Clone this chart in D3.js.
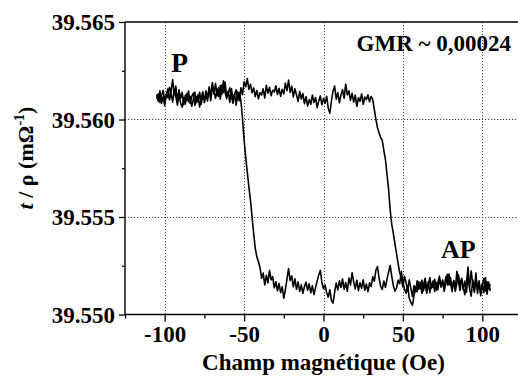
<!DOCTYPE html>
<html>
<head>
<meta charset="utf-8">
<script src="https://cdn.jsdelivr.net/npm/d3@7/dist/d3.min.js"></script>
<style>
  html, body { margin: 0; padding: 0; background: #fff; }
  svg { display: block; }
</style>
</head>
<body>
<svg id="chart" width="518" height="376"></svg>
<script>
// ---- data ----
const fieldOe = [-105,-104,-103,-102,-101,-100,-99,-98,-97,-96,-95,-94,-93,-92,-91,-90,-89,-88,-87,-86,-85,-84,-83,-82,-81,-80,-79,-78,-77,-76,-75,-74,-73,-72,-71,-70,-69,-68,-67,-66,-65,-64,-63,-62,-61,-60,-59,-58,-57,-56,-55,-54,-53,-52,-51,-50,-49,-48,-47,-46,-45,-44,-43,-42,-41,-40,-39,-38,-37,-36,-35,-34,-33,-32,-31,-30,-29,-28,-27,-26,-25,-24,-23,-22,-21,-20,-19,-18,-17,-16,-15,-14,-13,-12,-11,-10,-9,-8,-7,-6,-5,-4,-3,-2,-1,0,1,2,3,4,5,6,7,8,9,10,11,12,13,14,15,16,17,18,19,20,21,22,23,24,25,26,27,28,29,30,31,32,33,34,35,36,37,38,39,40,41,42,43,44,45,46,47,48,49,50,51,52,53,54,55,56,57,58,59,60,61,62,63,64,65,66,67,68,69,70,71,72,73,74,75,76,77,78,79,80,81,82,83,84,85,86,87,88,89,90,91,92,93,94,95,96,97,98,99,100,101,102,103,104,105];

// increasing-field sweep (P -> AP near +40 Oe)
const sweepUp = [39.56105,39.56132,39.56088,39.56121,39.56150,39.56097,39.56131,39.56112,39.56165,39.56140,39.56205,39.56128,39.56171,39.56094,39.56152,39.56108,39.56139,39.56076,39.56125,39.56098,39.56146,39.56083,39.56119,39.56135,39.56072,39.56118,39.56091,39.56140,39.56079,39.56124,39.56102,39.56147,39.56113,39.56158,39.56096,39.56172,39.56130,39.56185,39.56121,39.56163,39.56104,39.56177,39.56138,39.56192,39.56117,39.56145,39.56088,39.56159,39.56106,39.56131,39.56074,39.56142,39.56096,39.56163,39.56127,39.56194,39.56168,39.56210,39.56155,39.56181,39.56137,39.56162,39.56118,39.56149,39.56106,39.56138,39.56125,39.56157,39.56110,39.56176,39.56134,39.56165,39.56122,39.56150,39.56141,39.56173,39.56128,39.56160,39.56119,39.56155,39.56131,39.56187,39.56148,39.56202,39.56139,39.56171,39.56116,39.56158,39.56127,39.56092,39.56144,39.56105,39.56133,39.56081,39.56117,39.56069,39.56102,39.56078,39.56125,39.56087,39.56113,39.56061,39.56094,39.56121,39.56075,39.56108,39.56083,39.56119,39.56058,39.56032,39.56096,39.56145,39.56172,39.56104,39.56138,39.56086,39.56127,39.56153,39.56109,39.56181,39.56126,39.56147,39.56098,39.56134,39.56089,39.56125,39.56067,39.56112,39.56093,39.56131,39.56078,39.56115,39.56102,39.56126,39.56091,39.56118,39.56103,39.56052,39.56001,39.55958,39.55931,39.55908,39.55893,39.55842,39.55795,39.55718,39.55641,39.55536,39.55462,39.55415,39.55362,39.55312,39.55261,39.55214,39.55187,39.55142,39.55196,39.55163,39.55121,39.55178,39.55135,39.55092,39.55148,39.55117,39.55173,39.55129,39.55164,39.55108,39.55152,39.55186,39.55131,39.55167,39.55112,39.55158,39.55139,39.55181,39.55124,39.55162,39.55197,39.55143,39.55175,39.55118,39.55169,39.55206,39.55151,39.55188,39.55132,39.55174,39.55119,39.55161,39.55203,39.55147,39.55182,39.55126,39.55171,39.55114,39.55198,39.55139,39.55224,39.55156,39.55113,39.55187,39.55128,39.55165,39.55107,39.55149,39.55186,39.55121,39.55168,39.55132,39.55155];

// decreasing-field sweep (AP -> P near -48 Oe), listed in field order
const sweepDown = [39.56128,39.56093,39.56147,39.56082,39.56116,39.56071,39.56124,39.56158,39.56101,39.56137,39.56089,39.56152,39.56118,39.56074,39.56129,39.56085,39.56063,39.56112,39.56079,39.56134,39.56091,39.56117,39.56068,39.56103,39.56141,39.56086,39.56127,39.56064,39.56109,39.56142,39.56087,39.56126,39.56095,39.56168,39.56121,39.56189,39.56143,39.56109,39.56156,39.56118,39.56174,39.56129,39.56198,39.56141,39.56107,39.56135,39.56162,39.56119,39.56083,39.56128,39.56152,39.56101,39.56137,39.56095,39.56004,39.55895,39.55809,39.55731,39.55655,39.55587,39.55502,39.55418,39.55341,39.55296,39.55272,39.55241,39.55186,39.55213,39.55152,39.55201,39.55163,39.55226,39.55178,39.55194,39.55137,39.55168,39.55121,39.55159,39.55112,39.55143,39.55084,39.55127,39.55181,39.55236,39.55174,39.55198,39.55142,39.55183,39.55129,39.55167,39.55118,39.55152,39.55109,39.55143,39.55166,39.55124,39.55158,39.55111,39.55147,39.55102,39.55138,39.55171,39.55203,39.55226,39.55164,39.55132,39.55151,39.55112,39.55089,39.55127,39.55072,39.55058,39.55114,39.55161,39.55126,39.55173,39.55138,39.55182,39.55129,39.55164,39.55119,39.55187,39.55152,39.55214,39.55168,39.55131,39.55176,39.55122,39.55163,39.55135,39.55178,39.55124,39.55156,39.55117,39.55162,39.55143,39.55194,39.55171,39.55228,39.55246,39.55187,39.55145,39.55128,39.55172,39.55139,39.55183,39.55218,39.55251,39.55196,39.55148,39.55119,39.55137,39.55176,39.55158,39.55221,39.55164,39.55131,39.55109,39.55148,39.55083,39.55062,39.55047,39.55098,39.55142,39.55117,39.55168,39.55133,39.55176,39.55122,39.55161,39.55108,39.55147,39.55189,39.55136,39.55172,39.55118,39.55164,39.55127,39.55183,39.55141,39.55176,39.55129,39.55193,39.55152,39.55208,39.55161,39.55117,39.55174,39.55132,39.55221,39.55168,39.55124,39.55186,39.55139,39.55102,39.55157,39.55243,39.55131,39.55094,39.55178,39.55126,39.55212,39.55108,39.55173,39.55097,39.55158,39.55112,39.55189,39.55104,39.55166,39.55121];

const xMajorTicks = [-100, -50, 0, 50, 100];
const xMinorTicks = [-125, -75, -25, 25, 75];
const yMajorTicks = [39.550, 39.555, 39.560, 39.565];
const yMinorTicks = [39.5525, 39.5575, 39.5625];
const yGridTicks = [39.555, 39.560];

const xTitle = "Champ magnétique (Oe)";
const gmrText = "GMR ~ 0,00024";
const labelP = "P";
const labelAP = "AP";

// ---- drawing ----
const FONT = "Liberation Serif";
const svg = d3.select("#chart");
const padL = 125, padR = 522, padT = 22, padB = 314.5;

function serif(sel, size) {
  return sel.style("font-family", FONT).style("font-weight", "bold")
    .style("font-size", size + "px").style("fill", "#000");
}

const x = d3.scaleLinear().domain([-125, 125]).range([padL, padR]);
const y = d3.scaleLinear().domain([39.550, 39.565]).range([padB, padT]);

// grid
const grid = svg.append("g").attr("stroke", "#444").attr("stroke-width", 1).attr("stroke-dasharray", "1.2,1.8");
grid.selectAll("line.gx").data(xMajorTicks).join("line")
  .attr("x1", d => Math.round(x(d)) + 0.5).attr("x2", d => Math.round(x(d)) + 0.5)
  .attr("y1", padT).attr("y2", padB);
grid.selectAll("line.gy").data(yGridTicks).join("line")
  .attr("y1", d => Math.round(y(d)) + 0.5).attr("y2", d => Math.round(y(d)) + 0.5)
  .attr("x1", padL).attr("x2", padR);

// data lines
const line = d3.line().x((d, i) => x(fieldOe[i])).y(d => y(d));
svg.append("path").datum(sweepUp).attr("d", line)
  .attr("fill", "none").attr("stroke", "#000").attr("stroke-width", 1.6).attr("stroke-linejoin", "round");
svg.append("path").datum(sweepDown).attr("d", line)
  .attr("fill", "none").attr("stroke", "#000").attr("stroke-width", 1.6).attr("stroke-linejoin", "round");

// axes
function styleAxis(g) {
  g.attr("font-family", null).attr("font-size", null);
  g.select(".domain").remove();
  g.selectAll("line").attr("stroke", "#000").attr("stroke-width", 1.3);
  serif(g.selectAll("text"), 23);
}

const yAxis = svg.append("g").attr("transform", `translate(${padL},0)`)
  .call(d3.axisLeft(y).tickValues(yMajorTicks).tickFormat(d3.format(".3f")).tickSize(6).tickPadding(4));
styleAxis(yAxis);
yAxis.selectAll("text").attr("dy", "0.33em");

const yAxisMinor = svg.append("g").attr("transform", `translate(${padL},0)`)
  .call(d3.axisLeft(y).tickValues(yMinorTicks).tickFormat("").tickSize(3));
styleAxis(yAxisMinor);

const xAxis = svg.append("g").attr("transform", `translate(0,${padB})`)
  .call(d3.axisBottom(x).tickValues(xMajorTicks).tickFormat(d3.format("d")).tickSize(7).tickPadding(4));
styleAxis(xAxis);
xAxis.selectAll("text").text(d => d < 0 ? "-" + Math.abs(d) : d);

const xAxisMinor = svg.append("g").attr("transform", `translate(0,${padB})`)
  .call(d3.axisBottom(x).tickValues(xMinorTicks).tickFormat("").tickSize(4));
styleAxis(xAxisMinor);

// frame lines
svg.append("line").attr("x1", padL).attr("x2", padL).attr("y1", padT).attr("y2", padB)
  .attr("stroke", "#000").attr("stroke-width", 1.4);
svg.append("line").attr("x1", padL).attr("x2", padR).attr("y1", padB).attr("y2", padB)
  .attr("stroke", "#000").attr("stroke-width", 1.4);
svg.append("line").attr("x1", padL).attr("x2", padR).attr("y1", padT).attr("y2", padT)
  .attr("stroke", "#000").attr("stroke-width", 1.4);

// titles
serif(svg.append("text"), 23).attr("x", x(0)).attr("y", 370)
  .attr("text-anchor", "middle").text(xTitle);

const yt = serif(svg.append("text"), 22).attr("transform", "translate(33,158) rotate(-90)")
  .attr("text-anchor", "middle");
yt.append("tspan").style("font-style", "italic").text("t");
yt.append("tspan").text(" / ρ (mΩ");
yt.append("tspan").style("font-size", "14px").attr("dy", -9).text("-1");
yt.append("tspan").attr("dy", 9).text(")");

// annotations
serif(svg.append("text"), 23).attr("x", 511).attr("y", 51).attr("text-anchor", "end").text(gmrText);
serif(svg.append("text"), 28).attr("x", 171).attr("y", 72).text(labelP);
serif(svg.append("text"), 26).attr("x", 441).attr("y", 258).text(labelAP);
</script>
</body>
</html>
